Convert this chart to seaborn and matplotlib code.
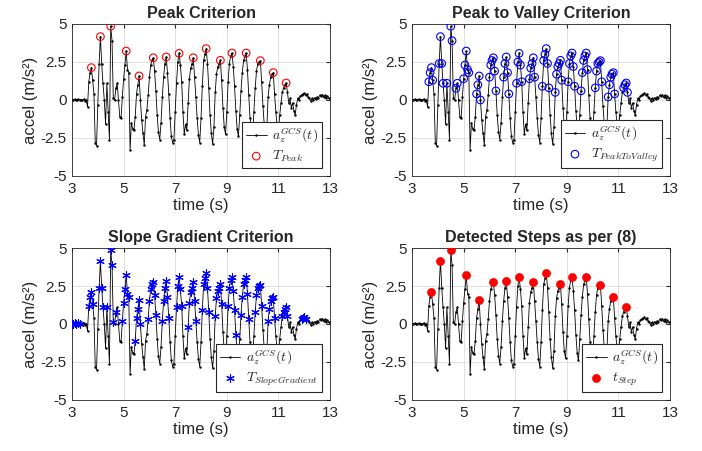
import numpy as np
import pandas as pd
import seaborn as sns
import matplotlib.pyplot as plt

# vertical acceleration a_z^GCS(t), sampled every 0.05 s from 3.00 s to 13.00 s
t_start, t_step = 3.0, 0.05
accel = [
    0.02, 0.00, 0.05, -0.03, 0.02, 0.04, -0.02, 0.03, 0.00, 0.05,      # 3.00
    -0.05, 0.02, -0.45, 1.20, 1.80, 2.13, 1.30, 0.40, -2.80, -3.00,    # 3.50
    -0.30, 2.40, 4.17, 2.40, 1.10, 0.00, -1.60, 1.10, -0.80, -2.60,    # 4.00
    4.85, 3.90, 0.10, 0.00, 0.77, 1.10, 0.00, -1.10, -1.20, 0.20,      # 4.50
    1.40, 2.30, 3.22, 2.00, 1.80, -3.30, -1.50, -1.90, -2.00, -1.10,   # 5.00
    0.40, 1.00, 1.58, 0.00, -1.30, -2.20, -2.96, -1.10, -0.66, 0.30,   # 5.50
    1.50, 2.30, 2.60, 2.78, 1.90, 0.60, -1.00, -2.10, -2.60, -1.50,    # 6.00
    0.20, 1.50, 2.40, 2.83, 1.80, 0.40, -1.20, -2.40, -2.80, -2.60,    # 6.50
    -0.80, 1.10, 2.50, 3.07, 2.30, 1.20, -0.80, -2.26, -1.60, -2.00,   # 7.00
    -0.20, 1.40, 2.10, 2.40, 2.78, 1.50, 0.20, -1.20, -2.30, -2.80,    # 7.50
    -1.20, 0.90, 2.60, 3.00, 3.38, 2.40, 0.80, -1.00, -2.20, -2.90,    # 8.00
    -1.80, 0.50, 1.70, 2.20, 2.40, 2.61, 1.30, -0.50, -1.80, -2.26,    # 8.50
    -0.80, 1.20, 2.40, 2.90, 3.09, 2.20, 0.90, -0.70, -1.90, -2.40,    # 9.00
    -1.00, 0.60, 1.80, 2.60, 2.90, 3.09, 2.00, 0.30, -1.20, -2.00,     # 9.50
    -2.30, -0.80, 0.80, 1.90, 2.40, 2.50, 2.59, 1.20, -0.40, -1.60,    # 10.00
    -2.20, -1.90, 0.20, 1.00, 1.50, 1.70, 1.80, 0.40, -0.80, -1.70,    # 10.50
    -2.00, -1.00, -0.20, 0.50, 0.80, 1.00, 1.12, 0.50, -0.20, 0.10,    # 11.00
    -0.50, -0.20, -0.70, -1.00, -0.30, 0.10, 0.00, 0.25, 0.35, 0.40,   # 11.50
    0.45, 0.30, 0.40, 0.20, 0.10, -0.05, 0.10, 0.00, 0.15, 0.05,       # 12.00
    0.20, 0.15, 0.30, 0.25, 0.35, 0.20, 0.30, 0.15, 0.25, 0.10,        # 12.50
    0.10,                                                              # 13.00
]

# detected sample times for each criterion
peak_times = [3.75, 4.10, 4.50, 5.10, 5.60, 6.15, 6.65, 7.15, 7.70, 8.20,
              8.75, 9.20, 9.75, 10.30, 10.80, 11.30]
p2v_times = [3.65, 3.70, 3.75, 3.80, 4.05, 4.10, 4.15, 4.20, 4.35, 4.50, 4.55,
             4.70, 4.75, 5.00, 5.05, 5.10, 5.15, 5.20, 5.50, 5.55, 5.60, 5.65,
             6.00, 6.05, 6.10, 6.15, 6.20, 6.25, 6.55, 6.60, 6.65, 6.70, 6.75,
             7.05, 7.10, 7.15, 7.20, 7.25, 7.55, 7.60, 7.65, 7.70, 7.75,
             8.05, 8.10, 8.15, 8.20, 8.25, 8.30, 8.55, 8.60, 8.65, 8.70, 8.75, 8.80,
             9.05, 9.10, 9.15, 9.20, 9.25, 9.30, 9.55, 9.60, 9.65, 9.70, 9.75, 9.80,
             10.10, 10.15, 10.20, 10.25, 10.30, 10.35, 10.60, 10.65, 10.70, 10.75,
             10.80, 10.85, 11.20, 11.25, 11.30, 11.35]
slope_times = [3.00, 3.05, 3.10, 3.15, 3.25, 3.30, 3.65, 3.70, 3.75, 3.80,
               4.05, 4.10, 4.15, 4.20, 4.35, 4.50, 4.55, 4.60, 4.70, 4.95, 5.00,
               5.05, 5.10, 5.15, 5.20, 5.45, 5.50, 5.55, 5.60, 5.65, 5.95,
               6.00, 6.05, 6.10, 6.15, 6.20, 6.25, 6.50, 6.55, 6.60, 6.65, 6.70,
               6.75, 7.05, 7.10, 7.15, 7.20, 7.25, 7.50, 7.55, 7.60, 7.65, 7.70,
               7.75, 7.80, 8.05, 8.10, 8.15, 8.20, 8.25, 8.30, 8.55, 8.60, 8.65,
               8.70, 8.75, 8.80, 9.05, 9.10, 9.15, 9.20, 9.25, 9.30, 9.35, 9.55,
               9.60, 9.65, 9.70, 9.75, 9.80, 9.85, 10.10, 10.15, 10.20, 10.25,
               10.30, 10.35, 10.60, 10.65, 10.70, 10.75, 10.80, 10.85, 11.15,
               11.20, 11.25, 11.30, 11.35, 11.90, 11.95, 12.00, 12.05]

df = pd.DataFrame({'t': np.round(t_start + t_step * np.arange(len(accel)), 2), 'a': accel})
lookup = df.set_index('t')['a']


def pick(times):
    return pd.DataFrame({'t': times, 'a': lookup.loc[np.round(times, 2)].values})


sns.set_style('white')
plt.rcParams['font.family'] = ['Liberation Sans', 'DejaVu Sans']
plt.rcParams['mathtext.fontset'] = 'cm'

fig = plt.figure(figsize=(7.02, 4.51), dpi=100)
w, h = 0.3675, 0.337
positions = [(0.1026, 0.6098), (0.587, 0.6098), (0.1026, 0.1131), (0.587, 0.1131)]
titles = ['Peak Criterion', 'Peak to Valley Criterion',
          'Slope Gradient Criterion', 'Detected Steps as per (8)']

for i, (x0, y0) in enumerate(positions):
    ax = fig.add_axes([x0, y0, w, h])
    sns.lineplot(data=df, x='t', y='a', ax=ax, color='black', lw=0.6,
                 marker='.', markersize=3.5, markeredgewidth=0,
                 label=r'$a_z^{GCS}(t)$')
    if i == 0:
        sns.scatterplot(data=pick(peak_times), x='t', y='a', ax=ax, marker='o',
                        facecolors='none', edgecolor='red', linewidth=0.8, s=30,
                        label=r'$T_{Peak}$', zorder=3)
    elif i == 1:
        sns.scatterplot(data=pick(p2v_times), x='t', y='a', ax=ax, marker='o',
                        facecolors='none', edgecolor='blue', linewidth=0.8, s=30,
                        label=r'$T_{PeakToValley}$', zorder=3)
    elif i == 2:
        sns.scatterplot(data=pick(slope_times), x='t', y='a', ax=ax, marker=(6, 2, 0),
                        color='blue', linewidth=0.8, s=30,
                        label=r'$T_{SlopeGradient}$', zorder=3)
    else:
        sns.scatterplot(data=pick(peak_times), x='t', y='a', ax=ax, marker='o',
                        color='red', edgecolor='red', linewidth=0, s=40,
                        label=r'$t_{Step}$', zorder=3)

    ax.set_xlim(3, 13)
    ax.set_ylim(-5, 5)
    ax.set_xticks([3, 5, 7, 9, 11, 13])
    ax.set_yticks([-5, -2.5, 0, 2.5, 5])
    ax.set_yticklabels(['-5', '-2.5', '0', '2.5', '5'])
    ax.grid(True, color='#dcdcdc', lw=0.6)
    ax.tick_params(direction='in', length=3, labelsize=11, colors='#262626',
                   top=True, right=True, pad=4)
    for s in ax.spines.values():
        s.set_color('#262626')
        s.set_linewidth(0.6)
    ax.set_title(titles[i], fontsize=11.5, fontweight='bold', pad=4)
    ax.set_xlabel('time (s)', fontsize=12, labelpad=2)
    ax.set_ylabel('accel (m/s²)', fontsize=12, labelpad=2)
    leg = ax.legend(loc='lower right', fontsize=10, frameon=True, fancybox=False,
                    edgecolor='#262626', framealpha=1, borderaxespad=0.6,
                    handlelength=1.5, handletextpad=0.4, labelspacing=0.25,
                    borderpad=0.25)
    leg.get_frame().set_linewidth(0.8)

fig.savefig('out.png', dpi=100)
